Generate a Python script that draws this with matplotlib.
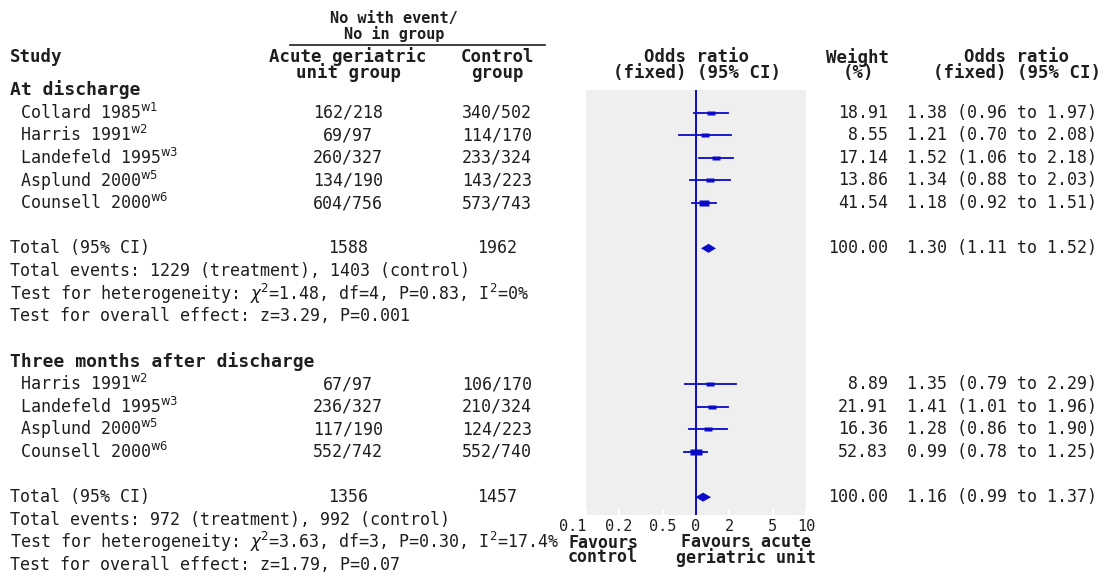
import numpy as np
import matplotlib
matplotlib.use('Agg')
import matplotlib.pyplot as plt
from matplotlib.ticker import NullLocator

W, H = 1106, 573

# At discharge
dis_study = ['Collard 1985', 'Harris 1991', 'Landefeld 1995', 'Asplund 2000', 'Counsell 2000']
dis_ref = ['w1', 'w2', 'w3', 'w5', 'w6']
dis_trt = ['162/218', '69/97', '260/327', '134/190', '604/756']
dis_ctl = ['340/502', '114/170', '233/324', '143/223', '573/743']
dis_wt = [18.91, 8.55, 17.14, 13.86, 41.54]
dis_or = [1.38, 1.21, 1.52, 1.34, 1.18]
dis_lo = [0.96, 0.70, 1.06, 0.88, 0.92]
dis_hi = [1.97, 2.08, 2.18, 2.03, 1.51]
dis_tot_n = ['1588', '1962']
dis_tot_wt = 100.00
dis_tot = [1.30, 1.11, 1.52]   # or, lo, hi
dis_notes = ['Total events: 1229 (treatment), 1403 (control)',
             r'Test for heterogeneity: $\chi^2$=1.48, df=4, P=0.83, I$^2$=0%',
             'Test for overall effect: z=3.29, P=0.001']

# Three months after discharge
m3_study = ['Harris 1991', 'Landefeld 1995', 'Asplund 2000', 'Counsell 2000']
m3_ref = ['w2', 'w3', 'w5', 'w6']
m3_trt = ['67/97', '236/327', '117/190', '552/742']
m3_ctl = ['106/170', '210/324', '124/223', '552/740']
m3_wt = [8.89, 21.91, 16.36, 52.83]
m3_or = [1.35, 1.41, 1.28, 0.99]
m3_lo = [0.79, 1.01, 0.86, 0.78]
m3_hi = [2.29, 1.96, 1.90, 1.25]
m3_tot_n = ['1356', '1457']
m3_tot_wt = 100.00
m3_tot = [1.16, 0.99, 1.37]
m3_notes = ['Total events: 972 (treatment), 992 (control)',
            r'Test for heterogeneity: $\chi^2$=3.63, df=3, P=0.30, I$^2$=17.4%',
            'Test for overall effect: z=1.79, P=0.07']

ticks = [0.1, 0.2, 0.5, 1, 2, 5, 10]
tick_lab = ['0.1', '0.2', '0.5', '0', '2', '5', '10']

blue = '#0a0ac8'
txtc = '#1e1e1e'
mono = 'DejaVu Sans Mono'
fs = 12.0
hfs = 12.5

fig = plt.figure(figsize=(W / 100, H / 100), dpi=100)
tx = fig.add_axes([0, 0, 1, 1])
tx.set_xlim(0, W)
tx.set_ylim(H, 0)
tx.axis('off')

ax = fig.add_axes([586 / W, 1 - 515 / H, 220 / W, 425 / H])
ax.set_xscale('log')
ax.set_xlim(0.1, 10)
ax.set_ylim(515, 90)
ax.set_facecolor('#efefef')
for s in ax.spines.values():
    s.set_visible(False)
ax.set_xticks(ticks)
ax.set_xticklabels(tick_lab, family=mono)
ax.xaxis.set_minor_locator(NullLocator())
ax.set_yticks([])
ax.tick_params(axis='x', direction='in', color='white', length=4, width=1.5,
               pad=3, labelsize=11, labelcolor=txtc)
ax.get_xticklabels()[0].set_horizontalalignment('right')
ax.axvline(1, color=blue, lw=1.4, zorder=2)

rect = [(-1, -0.55), (1, -0.55), (1, 0.55), (-1, 0.55), (-1, -0.55)]

# column positions
x_name = 20
x_trt = 348
x_ctl = 497
x_wt = 888
x_ci = 907

step = 22.62
def row(i):
    return 90 + i * step

# headers
bold = dict(fontsize=hfs, fontweight='bold', color=txtc, va='center', family=mono)
hdr = dict(bold, ha='center', multialignment='center', linespacing=0.8)
tx.text(394, 26.5, 'No with event/\nNo in group', **dict(hdr, fontsize=11, linespacing=0.95))
tx.plot([290, 545], [45, 45], color=txtc, lw=1.2)
tx.text(10, 57, 'Study', ha='left', **bold)
tx.text(x_trt, 65, 'Acute geriatric\nunit group', **hdr)
tx.text(x_ctl, 65, 'Control\ngroup', **hdr)
tx.text(697, 65, 'Odds ratio\n(fixed) (95% CI)', **hdr)
tx.text(858, 65, 'Weight\n(%)', **hdr)
tx.text(1017, 65, 'Odds ratio\n(fixed) (95% CI)', **hdr)

norm = dict(fontsize=fs, color=txtc, va='center', family=mono)


def block(r0, title, study, ref, trt, ctl, wt, orr, lo, hi, tot_n, tot_wt, tot, notes):
    tx.text(10, row(r0), title, ha='left', **dict(bold, fontsize=13))
    for i in range(len(study)):
        y = row(r0 + 1 + i)
        tx.text(x_name, y, study[i] + r'$^{\mathrm{' + ref[i] + '}}$', ha='left', **norm)
        tx.text(x_trt, y, trt[i], ha='center', **norm)
        tx.text(x_ctl, y, ctl[i], ha='center', **norm)
        tx.text(x_wt, y, f'{wt[i]:.2f}', ha='right', **norm)
        tx.text(x_ci, y, f'{orr[i]:.2f} ({lo[i]:.2f} to {hi[i]:.2f})', ha='left', **norm)
        ax.plot([lo[i], hi[i]], [y, y], color=blue, lw=1.3, zorder=3)
        ax.plot(orr[i], y, marker=rect, ms=(6 + 0.12 * wt[i]) * 0.72,
                color=blue, mec='none', zorder=4)
    yt = row(r0 + len(study) + 2)
    tx.text(10, yt, 'Total (95% CI)', ha='left', **norm)
    tx.text(x_trt, yt, tot_n[0], ha='center', **norm)
    tx.text(x_ctl, yt, tot_n[1], ha='center', **norm)
    tx.text(x_wt, yt, f'{tot_wt:.2f}', ha='right', **norm)
    tx.text(x_ci, yt, f'{tot[0]:.2f} ({tot[1]:.2f} to {tot[2]:.2f})', ha='left', **norm)
    ax.fill([tot[1], tot[0], tot[2], tot[0]], [yt, yt - 4.5, yt, yt + 4.5],
            color=blue, lw=0, zorder=4)
    for k, t in enumerate(notes):
        tx.text(10, yt + (k + 1) * step, t, ha='left', **norm)


block(0, 'At discharge', dis_study, dis_ref, dis_trt, dis_ctl, dis_wt,
      dis_or, dis_lo, dis_hi, dis_tot_n, dis_tot_wt, dis_tot, dis_notes)
block(12, 'Three months after discharge', m3_study, m3_ref, m3_trt, m3_ctl, m3_wt,
      m3_or, m3_lo, m3_hi, m3_tot_n, m3_tot_wt, m3_tot, m3_notes)

fb = dict(bold, fontsize=12, linespacing=0.75)
tx.text(568, 550, 'Favours\ncontrol', ha='left', multialignment='left', **fb)
tx.text(746, 550, 'Favours acute\ngeriatric unit', ha='center', multialignment='center', **fb)

fig.savefig('out.png', dpi=100)
